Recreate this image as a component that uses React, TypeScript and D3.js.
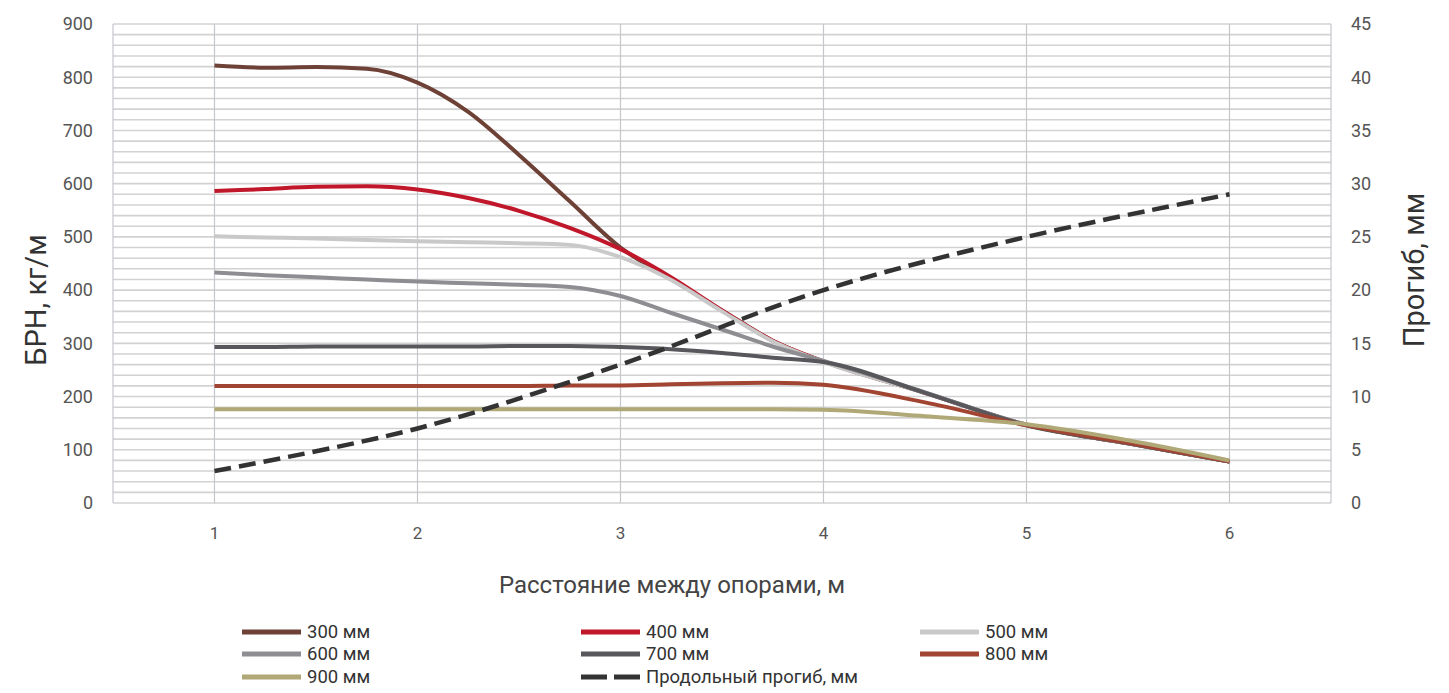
import React from "react";
import * as d3 from "d3";

// Distances between supports, m (shared x points of the load curves)
const distances = [1, 1.25, 1.5, 1.75, 2, 2.25, 2.5, 2.75, 3, 3.25, 3.5, 3.75, 4, 4.5, 5, 5.5, 6];

// Load curves БРН, кг/м, per tray width
const load300 = [822, 818, 819, 816, 790, 735, 654, 567, 480, 421, 362, 305, 266, 207, 147, 112, 78];
const load400 = [586, 590, 594, 595, 589, 573, 549, 517, 477, 424, 362, 305, 266, 207, 147, 112, 78];
const load500 = [501, 499, 497, 494, 492, 490, 488, 485, 462, 419, 360, 304, 265, 207, 147, 112, 78];
const load600 = [433, 428, 424, 420, 416, 413, 410, 406, 389, 357, 326, 294, 267, 208, 147, 112, 78];
const load700 = [293, 293, 294, 294, 294, 294, 295, 295, 293, 289, 282, 273, 265, 207, 146, 112, 78];
const load800 = [220, 220, 220, 220, 220, 220, 220, 221, 221, 223, 225, 226, 222, 189, 146, 113, 78];
const load900 = [176, 176, 176, 176, 176, 176, 176, 176, 176, 176, 176, 176, 175, 163, 148, 118, 80];

// Longitudinal deflection, мм
const deflectionX = [1, 2, 3, 4, 5, 6];
const deflection = [3, 7, 13, 20, 25, 29];

const leftTicks = [0, 100, 200, 300, 400, 500, 600, 700, 800, 900];
const rightTicks = [0, 5, 10, 15, 20, 25, 30, 35, 40, 45];
const xTicks = [1, 2, 3, 4, 5, 6];

const seriesNames = ["300 мм", "400 мм", "500 мм", "600 мм", "700 мм", "800 мм", "900 мм"];
const seriesData = [load300, load400, load500, load600, load700, load800, load900];
const seriesColors = ["#6e4137", "#c0182a", "#c9c9c9", "#8e8e92", "#58585c", "#a24432", "#b0a877"];
const deflectionName = "Продольный прогиб, мм";

export default function App() {
  const W = 1449;
  const H = 693;
  const left = 113, right = 1331, top = 24, bottom = 503;
  const x = d3.scaleLinear().domain([0.5, 6.5]).range([left, right]);
  const yL = d3.scaleLinear().domain([0, 900]).range([bottom, top]);
  const yR = d3.scaleLinear().domain([0, 45]).range([bottom, top]);
  const font = "Roboto, 'DejaVu Sans', sans-serif";

  const line = d3
    .line<number>()
    .x((_, i) => x(distances[i]))
    .y((d) => yL(d))
    .curve(d3.curveMonotoneX);

  const defLine = d3
    .line<number>()
    .x((_, i) => x(deflectionX[i]))
    .y((d) => yR(d))
    .curve(d3.curveCatmullRom.alpha(0.5));

  const minorGrid = d3.range(0, 46, 1);

  // legend layout
  const legendCols = [242, 581, 920];
  const legendRows = [632, 654, 677];
  const legendItems = [...seriesNames.map((n, i) => ({ name: n, color: seriesColors[i], dashed: false })),
    { name: deflectionName, color: "#333333", dashed: true }];

  return (
    <svg width={W} height={H} style={{ position: "absolute", left: 0, top: 0, background: "#fff" }}>
      <rect x={0} y={0} width={W} height={H} fill="#fff" />
      {/* horizontal grid */}
      {minorGrid.map((v) => (
        <line key={"h" + v} x1={left} x2={right} y1={yR(v)} y2={yR(v)} stroke="#d2d2d2" strokeWidth={1.6} />
      ))}
      {/* vertical grid + borders */}
      {[0.5, ...xTicks, 6.5].map((v) => (
        <line key={"v" + v} x1={x(v)} x2={x(v)} y1={top} y2={bottom} stroke="#c4c7cc" strokeWidth={1.2} />
      ))}

      {/* series */}
      {seriesData.map((s, i) => (
        <path key={seriesNames[i]} d={line(s) || ""} fill="none" stroke={seriesColors[i]} strokeWidth={4}
          strokeLinecap="butt" strokeLinejoin="round" />
      ))}
      <path d={defLine(deflection) || ""} fill="none" stroke="#333333" strokeWidth={4.5} strokeDasharray="17 8" />

      {/* left ticks */}
      {leftTicks.map((t) => (
        <text key={"l" + t} x={93} y={yL(t)} dy="0.35em" textAnchor="end" fontFamily={font} fontSize={18} fill="#555">{t}</text>
      ))}
      {/* right ticks */}
      {rightTicks.map((t) => (
        <text key={"r" + t} x={1351} y={yR(t)} dy="0.35em" textAnchor="start" fontFamily={font} fontSize={18} fill="#555">{t}</text>
      ))}
      {/* x ticks */}
      {xTicks.map((t) => (
        <text key={"x" + t} x={x(t)} y={533} dy="0.35em" textAnchor="middle" fontFamily={font} fontSize={17} fill="#555">{t}</text>
      ))}

      {/* axis titles */}
      <text transform="translate(46,300) rotate(-90)" textAnchor="middle" fontFamily={font} fontSize={29} fill="#333">БРН, кг/м</text>
      <text transform="translate(1424,270) rotate(-90)" textAnchor="middle" fontFamily={font} fontSize={29} fill="#333">Прогиб, мм</text>
      <text x={672} y={585} dy="0.35em" textAnchor="middle" fontFamily={font} fontSize={24} fill="#444">Расстояние между опорами, м</text>

      {/* legend */}
      {legendItems.map((it, i) => {
        const cx = legendCols[i % 3];
        const cy = legendRows[Math.floor(i / 3)];
        return (
          <g key={"lg" + i}>
            {it.dashed ? (
              <line x1={cx} x2={cx + 59} y1={cy} y2={cy} stroke={it.color} strokeWidth={5} strokeDasharray="26 7" />
            ) : (
              <line x1={cx} x2={cx + 59} y1={cy} y2={cy} stroke={it.color} strokeWidth={5} />
            )}
            <text x={cx + 65} y={cy} dy="0.35em" fontFamily={font} fontSize={18.5} fill="#333">{it.name}</text>
          </g>
        );
      })}
    </svg>
  );
}
